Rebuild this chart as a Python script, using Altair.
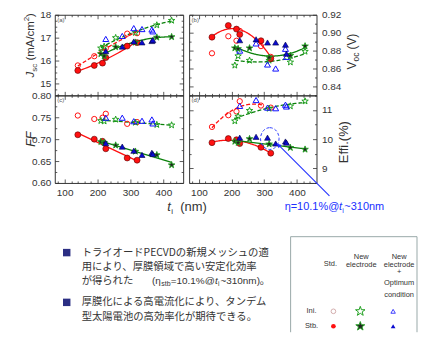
import altair as alt
import pandas as pd

# ---------------- values ----------------
std_t = [140, 190, 215, 225, 290, 320]
std_jsc_ini = [15.80, 16.20, 16.38, 16.55, 17.18, 17.20]
std_jsc_stb = [15.58, 15.80, 15.90, 16.14, 16.64, 16.79]
std_voc_ini = [0.877, 0.896, 0.891, 0.902, 0.885, 0.873]
std_voc_stb = [0.895, 0.908, 0.904, 0.898, 0.891, 0.871]
std_ff_ini = [0.754, 0.746, 0.749, 0.758, 0.735, 0.739]
std_ff_stb = [0.710, 0.700, 0.695, 0.678, 0.657, 0.652]
std_eff_ini = [10.42, 10.82, 10.95, 11.30, 11.15, 11.08]
std_eff_stb = [9.88, 10.02, 9.98, 9.85, 9.72, 9.52]

new_t = [210, 220, 255, 315, 380, 425]
new_jsc_ini = [16.55, 16.62, 17.00, 17.22, 17.55, 17.75]
new_jsc_stb = [16.30, 16.20, 16.60, 16.80, 17.02, 17.04]
new_voc_ini = [0.8635, 0.874, 0.869, 0.869, 0.867, 0.879]
new_voc_stb = [0.8828, 0.882, 0.8828, 0.8723, 0.8744, 0.885]
new_ff_ini = [0.742, 0.741, 0.745, 0.738, 0.733, 0.732]
new_ff_stb = [0.694, 0.692, 0.686, 0.672, 0.664, 0.641]
new_eff_ini = [10.62, 10.78, 10.98, 11.05, 11.13, 11.30]
new_eff_stb = [9.92, 9.88, 10.01, 9.83, 9.71, 9.65]

opt_t = [225, 275, 310, 335, 365, 368]
opt_jsc_ini = [16.95, 17.08, 17.42, 17.38, 17.36, 17.28]
opt_jsc_stb = [16.42, 16.62, 16.84, 16.80, 16.86, 16.90]
opt_voc_ini = [0.880, 0.888, 0.8645, 0.860, 0.882, 0.873]
opt_voc_stb = [0.8916, 0.8926, 0.889, 0.889, 0.8866, 0.8765]
opt_ff_ini = [0.749, 0.749, 0.741, 0.742, 0.745, 0.736]
opt_ff_stb = [0.691, 0.683, 0.6735, 0.664, 0.669, 0.666]
opt_eff_ini = [11.14, 11.34, 11.08, 11.06, 11.18, 11.12]
opt_eff_stb = [10.05, 10.08, 10.05, 9.85, 9.92, 9.88]

mark_t = [317]
mark_eff = [10.02]

# axis ticks / labels
x_major = [100, 200, 300, 400]
x_minor = [80, 120, 140, 160, 180, 220, 240, 260, 280, 320, 340, 360, 380, 420, 440]
jsc_major = [15, 16, 17, 18]
jsc_minor = [14.75, 15.25, 15.5, 15.75, 16.25, 16.5, 16.75, 17.25, 17.5, 17.75]
voc_major = [0.84, 0.86, 0.88, 0.90, 0.92]
voc_minor = [0.83, 0.85, 0.87, 0.89, 0.91]
ff_major = [0.60, 0.65, 0.70, 0.75, 0.80]
ff_minor = [0.625, 0.675, 0.725, 0.775]
eff_major = [9, 10, 11]
eff_minor = [8.5, 9.5, 10.5, 11.5]

bullet1 = ["トライオードPECVDの新規メッシュの適", "用により、厚膜領域で高い安定化効率"]
bullet2 = ["厚膜化による高電流化により、タンデム", "型太陽電池の高効率化が期待できる。"]

# ---------------- styling ----------------
FONT = "Liberation Sans"
JP = "Noto Sans CJK JP"
INK = "#333333"
RED = "#ff1010"
RED_EDGE = "#5a0000"
GRN = "#1f9f1f"
GRN_LINE = "#0a800a"
BLUE = "#1010ff"
BLUE_FILL = "#0a0ad0"
STAR = ("M0,-1L0.235,-0.324L0.951,-0.309L0.38,0.124L0.588,0.809L0,0.4"
        "L-0.588,0.809L-0.38,0.124L-0.951,-0.309L-0.235,-0.324Z")
ELLIPSE = "M0,-1A0.85,1 0 1,1 0,1A0.85,1 0 1,1 0,-1Z"

XDOM = [70, 460]
W1, W2 = 129, 128
H1, H2 = 81, 88
OA, OB, OC, OD = (54, 13), (189, 13), (54, 94), (189, 94)


def sx():
    return alt.Scale(domain=XDOM, nice=False, zero=False)


def sy(d):
    return alt.Scale(domain=d, nice=False, zero=False)


def frame(t, v):
    return pd.DataFrame({"t": t, "v": v})


def enc(ch, ydom):
    return ch.encode(x=alt.X("t:Q", scale=sx(), axis=None),
                     y=alt.Y("v:Q", scale=sy(ydom), axis=None))


def pts(t, v, ydom, shape, size, stroke, sw, fill=None):
    base = alt.Chart(frame(t, v))
    if fill:
        m = base.mark_point(shape=shape, size=size, filled=True, fill=fill,
                            stroke=stroke, strokeWidth=sw, opacity=1)
    else:
        m = base.mark_point(shape=shape, size=size, filled=False,
                            stroke=stroke, strokeWidth=sw, opacity=1)
    return enc(m, ydom)


def fit(t, v, ydom, color, dash, method="poly", extent=None):
    kw = {"method": method}
    if method == "poly":
        kw["order"] = 2
    if extent:
        kw["extent"] = extent
    ch = alt.Chart(frame(t, v)).transform_regression("t", "v", **kw)
    mk = {"color": color, "strokeWidth": 1.3}
    if dash:
        mk["strokeDash"] = [4, 2]
    return enc(ch.mark_line(**mk), ydom)


def series(ydom, s_ini, s_stb, n_ini, n_stb, o_ini, o_stb):
    return [
        pts(std_t, s_ini, ydom, "circle", 28, RED, 1),
        pts(new_t, n_ini, ydom, STAR, 46, GRN, 1),
        pts(opt_t, o_ini, ydom, "triangle-up", 36, BLUE, 1),
        pts(std_t, s_stb, ydom, "circle", 36, RED_EDGE, 0.6, RED),
        pts(new_t, n_stb, ydom, STAR, 48, GRN, 0.9, "#222222"),
        pts(opt_t, o_stb, ydom, "triangle-up", 36, "#000040", 0.6, BLUE_FILL),
    ]


def tick_axis(orient, values, size, offset):
    return alt.Axis(orient=orient, values=values, labels=False, ticks=True,
                    tickSize=size, tickColor=INK, tickWidth=0.8, domain=False,
                    grid=False, title=None, offset=offset)


def label_axis(orient, values, fmt, pad):
    return alt.Axis(orient=orient, values=values, format=fmt, labels=True,
                    ticks=False, domain=False, grid=False, title=None,
                    labelFont=FONT, labelFontSize=10, labelColor=INK,
                    labelPadding=pad, labelOverlap=False)


def axis_layers(ydom, w, h, ymaj, ymin, yorient, yfmt, xlabels):
    df = frame(XDOM, ydom)
    specs = [
        (tick_axis("bottom", x_major, 4, -h), tick_axis("right", ymaj, 4, -w)),
        (tick_axis("bottom", x_minor, 2, -h), tick_axis("right", ymin, 2, -w)),
        (tick_axis("top", x_major, 4, -h), tick_axis("left", ymaj, 4, -w)),
        (tick_axis("top", x_minor, 2, -h), tick_axis("left", ymin, 2, -w)),
        (label_axis("bottom", x_major, "d", 5) if xlabels else None,
         label_axis(yorient, ymaj, yfmt, 4 if yorient == "left" else 5)),
    ]
    out = []
    for xa, ya in specs:
        out.append(alt.Chart(df).mark_point(opacity=0, size=1).encode(
            x=alt.X("t:Q", scale=sx(), axis=xa),
            y=alt.Y("v:Q", scale=sy(ydom), axis=ya)))
    return out


def txt(s, px, py, org, size, font=FONT, color=INK, angle=0, align="left",
        baseline="middle", italic=False):
    kw = dict(align=align, baseline=baseline, fontSize=size, font=font,
              color=color, fontStyle="italic" if italic else "normal")
    if angle:
        kw["angle"] = angle
    return alt.Chart(pd.DataFrame({"s": [s]})).mark_text(**kw).encode(
        x=alt.value(px - org[0]), y=alt.value(py - org[1]), text="s:N")


def glyph(px, py, org, shape, size, stroke, sw, fill=None, angle=0):
    kw = dict(shape=shape, size=size, stroke=stroke, strokeWidth=sw, opacity=1)
    if fill:
        kw.update(filled=True, fill=fill)
    else:
        kw.update(filled=False)
    if angle:
        kw["angle"] = angle
    return alt.Chart(pd.DataFrame({"k": [0]})).mark_point(**kw).encode(
        x=alt.value(px - org[0]), y=alt.value(py - org[1]))


def seg(p1, p2, org, color, sw):
    return alt.Chart(pd.DataFrame({"k": [0]})).mark_rule(
        color=color, strokeWidth=sw).encode(
        x=alt.value(p1[0] - org[0]), y=alt.value(p1[1] - org[1]),
        x2=alt.value(p2[0] - org[0]), y2=alt.value(p2[1] - org[1]))


def letter(s, org):
    return txt(s, org[0] + 2.5, org[1] + 2, org, 6, color="#555555",
               baseline="top")


# ---------------- panel (a) Jsc ----------------
JD = [14.5, 18]
la = [
    fit(std_t, std_jsc_stb, JD, RED, False),
    fit(std_t, std_jsc_ini, JD, RED, True),
    fit(new_t, new_jsc_stb, JD, GRN_LINE, False),
    fit(new_t, new_jsc_ini, JD, GRN_LINE, True),
]
la += series(JD, std_jsc_ini, std_jsc_stb, new_jsc_ini, new_jsc_stb,
             opt_jsc_ini, opt_jsc_stb)
la += axis_layers(JD, W1, H1, jsc_major, jsc_minor, "left", "d", False)
la += [
    letter("(a)", OA),
    txt("J", 33, 76, OA, 11.5, angle=270, baseline="alphabetic", italic=True),
    txt("sc", 36, 70.3, OA, 8, angle=270, baseline="alphabetic"),
    txt("(mA/cm", 33, 59, OA, 11.5, angle=270, baseline="alphabetic"),
    txt("2", 28.5, 19.6, OA, 8, angle=270, baseline="alphabetic"),
    txt(")", 33, 15.3, OA, 11.5, angle=270, baseline="alphabetic"),
    alt.Chart(pd.DataFrame({"k": [0]})).mark_rule(opacity=0).encode(
        x=alt.value(-46), x2=alt.value(-46), y=alt.value(-5), y2=alt.value(-5)),
]
pa = alt.layer(*la).resolve_axis(x="independent", y="independent").properties(
    width=W1, height=H1)

# ---------------- panel (b) Voc ----------------
VD = [0.83, 0.92]
lb = [
    fit(std_t, std_voc_stb, VD, RED, False),
    fit(new_t, new_voc_stb, VD, GRN_LINE, False),
    fit(new_t, new_voc_ini, VD, GRN_LINE, True),
]
lb += series(VD, std_voc_ini, std_voc_stb, new_voc_ini, new_voc_stb,
             opt_voc_ini, opt_voc_stb)
lb += axis_layers(VD, W2, H1, voc_major, voc_minor, "right", ".2f", False)
lb += [
    letter("(b)", OB),
    txt("V", 357, 68, OB, 12, angle=270, baseline="alphabetic"),
    txt("oc", 360, 60, OB, 8.5, angle=270, baseline="alphabetic"),
    txt("(V)", 357, 48, OB, 12, angle=270, baseline="alphabetic"),
]
pb = alt.layer(*lb).resolve_axis(x="independent", y="independent").properties(
    width=W2, height=H1)

# ---------------- panel (c) FF ----------------
FD = [0.60, 0.80]
lc = [
    fit(std_t, std_ff_stb, FD, RED, False, method="linear"),
    fit(new_t, new_ff_stb, FD, GRN_LINE, False, method="linear"),
    fit(new_t, new_ff_ini, FD, GRN_LINE, True, method="linear"),
]
lc += series(FD, std_ff_ini, std_ff_stb, new_ff_ini, new_ff_stb,
             opt_ff_ini, opt_ff_stb)
lc += axis_layers(FD, W1, H2, ff_major, ff_minor, "left", ".2f", True)
JPS = 10.4
lc += [
    letter("(c)", OC),
    txt("FF", 34, 138, OC, 12.5, angle=270, baseline="alphabetic",
        align="center", italic=True),
    txt("t", 167, 210, OC, 13, baseline="alphabetic", italic=True),
    txt("i", 171, 213, OC, 8, baseline="alphabetic"),
    txt("(nm)", 180, 210, OC, 13, baseline="alphabetic"),
    glyph(66, 252, OC, "square", 56, "#2b2e83", 0, fill="#2b2e83"),
    glyph(66, 302, OC, "square", 56, "#2b2e83", 0, fill="#2b2e83"),
    txt(bullet1[0], 81, 252, OC, JPS, font=JP),
    txt(bullet1[1], 81, 266.5, OC, JPS, font=JP),
    txt("が得られた", 81, 281, OC, JPS, font=JP),
    txt("(η", 151.7, 281, OC, 10),
    txt("stb", 161, 284, OC, 7),
    txt("=10.1%@", 170.5, 281, OC, 10),
    txt("t", 215, 281, OC, 10, italic=True),
    txt("i", 218, 284, OC, 6.5),
    txt("~310nm)", 220.5, 281, OC, 10),
    txt("。", 260, 281, OC, JPS, font=JP),
    txt(bullet2[0], 81, 302, OC, JPS, font=JP),
    txt(bullet2[1], 81, 316.5, OC, JPS, font=JP),
]
pc = alt.layer(*lc).resolve_axis(x="independent", y="independent").properties(
    width=W1, height=H2)

# ---------------- panel (d) Efficiency ----------------
ED = [8.5, 11.5]
ld = [
    fit(std_t, std_eff_ini, ED, RED, True, extent=[140, 295]),
    fit(std_t, std_eff_stb, ED, RED, False),
    fit(new_t, new_eff_ini, ED, GRN_LINE, True),
    fit(new_t, new_eff_stb, ED, GRN_LINE, False, method="linear"),
]
ld += series(ED, std_eff_ini, std_eff_stb, new_eff_ini, new_eff_stb,
             opt_eff_ini, opt_eff_stb)
ld += axis_layers(ED, W2, H2, eff_major, eff_minor, "right", "d", True)
ld += [
    letter("(d)", OD),
    enc(alt.Chart(frame(mark_t, mark_eff)).mark_point(
        shape=ELLIPSE, size=480, filled=False, stroke="#3040ff",
        strokeWidth=1, strokeDash=[3, 2], opacity=1), ED),
    seg((278, 143), (330, 195), OD, "#2030ff", 1.1),
    glyph(279, 144, OD, "triangle-up", 22, "#2030ff", 0, fill="#2030ff",
          angle=315),
    txt("η=10.1%@", 285, 209, OD, 11, color="#2030ff", baseline="alphabetic"),
    txt("t", 339.5, 209, OD, 11, color="#2030ff", baseline="alphabetic",
        italic=True),
    txt("i", 342.8, 212, OD, 7, color="#2030ff", baseline="alphabetic"),
    txt("~310nm", 345, 209, OD, 11, color="#2030ff", baseline="alphabetic"),
    txt("Effi.(%)", 349, 141, OD, 13, angle=270, baseline="alphabetic",
        align="center"),
    # legend box
    seg((291, 236), (418, 236), OD, "#98a8a8", 1),
    seg((291, 236), (291, 332), OD, "#98a8a8", 1),
    seg((418, 236), (418, 332), OD, "#98a8a8", 1),
    txt("Std.", 331, 263, OD, 7.5, align="center"),
    txt("New", 362, 256, OD, 7.5, align="center"),
    txt("electrode", 362, 264, OD, 7.5, align="center"),
    txt("New", 400, 256, OD, 7.5, align="center"),
    txt("electrode", 400, 264, OD, 7.5, align="center"),
    txt("+", 400, 272, OD, 7.5, align="center"),
    txt("Optimum", 400, 283, OD, 7.5, align="center"),
    txt("condition", 400, 295, OD, 7.5, align="center"),
    txt("Ini.", 312, 311, OD, 7.5, align="center"),
    txt("Stb.", 312, 326, OD, 7.5, align="center"),
    glyph(334, 311, OD, "circle", 22, "#c99a9a", 0.8),
    glyph(361, 311, OD, STAR, 100, GRN, 1),
    glyph(394, 311, OD, "triangle-up", 20, BLUE, 0.8),
    glyph(334, 326, OD, "circle", 22, RED, 0, fill=RED),
    glyph(361, 326, OD, STAR, 90, GRN, 0.9, fill="#222222"),
    glyph(394, 326, OD, "triangle-up", 22, BLUE_FILL, 0, fill=BLUE_FILL),
]
pd_ = alt.layer(*ld).resolve_axis(x="independent", y="independent").properties(
    width=W2, height=H2)

chart = alt.concat(
    pa, pb, pc, pd_, columns=2, spacing={"row": 0, "column": 6}, bounds="flush"
).properties(padding=0).configure_view(stroke=INK, strokeWidth=1)

chart.save("out.html", embed_options={"renderer": "svg", "actions": False})
